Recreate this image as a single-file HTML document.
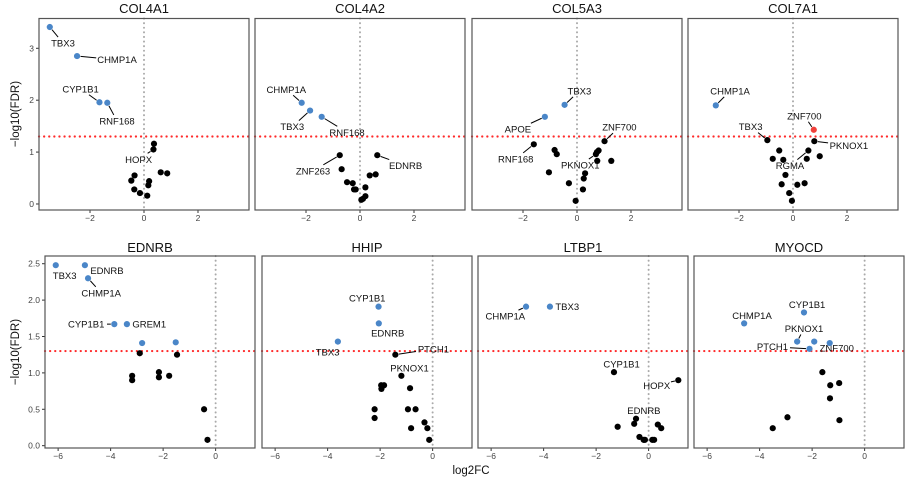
<!DOCTYPE html>
<html><head><meta charset="utf-8">
<style>
html,body{margin:0;padding:0;background:#fff;}
svg{display:block;font-family:"Liberation Sans",sans-serif;}
</style></head>
<body>
<svg id="chart" width="923" height="481" viewBox="0 0 923 481" xmlns="http://www.w3.org/2000/svg">
<text x="0" y="0" transform="translate(19,114) rotate(-90)" text-anchor="middle" font-size="11.5" fill="#111">−log10(FDR)</text>
<text x="0" y="0" transform="translate(19,352) rotate(-90)" text-anchor="middle" font-size="11.5" fill="#111">−log10(FDR)</text>
<text x="471" y="474" text-anchor="middle" font-size="11.5" fill="#111">log2FC</text>
</svg>
<script>
// ---- data: panels, genes, log2FC, -log10FDR, colour group ----
const panelNames = ["COL4A1","COL4A2","COL5A3","COL7A1","EDNRB","HHIP","LTBP1","MYOCD"];
const topTicksY = [0,1,2,3];
const topTicksX = [-2,0,2];
const botTicksY = ["0.0","0.5","1.0","1.5","2.0","2.5"];
const botTicksX = [-6,-4,-2,0];
const fdrThreshold = 1.3;

const xCOL4A1 = [-3.49,-2.48,-1.65,-1.36,0.35,0.37,-0.47,-0.35,-0.36,-0.15,0.12,0.16,0.19,0.62,0.86];
const yCOL4A1 = [3.41,2.85,1.96,1.95,1.05,1.16,0.45,0.55,0.28,0.21,0.16,0.36,0.44,0.61,0.59];
const cCOL4A1 = ["b","b","b","b","k","k","k","k","k","k","k","k","k","k","k"];
const lCOL4A1 = [["TBX3",0,-3.0,3.1],["CHMP1A",1,-1.0,2.78],["CYP1B1",2,-2.35,2.22],["RNF168",3,-1.0,1.6],["HOPX",4,-0.2,0.86]];

const xCOL4A2 = [-2.16,-1.85,-1.42,-0.75,-0.68,0.64,-0.48,-0.27,-0.22,-0.16,0.05,0.11,0.2,0.2,0.36,0.58];
const yCOL4A2 = [1.95,1.80,1.68,0.94,0.67,0.94,0.42,0.40,0.28,0.28,0.08,0.10,0.15,0.32,0.55,0.57];
const cCOL4A2 = ["b","b","b","k","k","k","k","k","k","k","k","k","k","k","k","k"];
const lCOL4A2 = [["CHMP1A",0,-2.73,2.21],["TBX3",1,-2.51,1.49],["RNF168",2,-0.48,1.38],["ZNF263",3,-1.74,0.64],["EDNRB",5,1.69,0.74]];

const xCOL5A3 = [-0.46,-1.19,-1.6,1.02,0.70,0.8,0.74,-0.83,-0.75,0.75,1.27,-1.04,0.30,0.25,-0.30,0.22,-0.05];
const yCOL5A3 = [1.91,1.68,1.15,1.21,0.96,1.03,1.0,1.04,0.96,0.83,0.83,0.61,0.59,0.49,0.40,0.28,0.06];
const cCOL5A3 = ["b","b","k","k","k","k","k","k","k","k","k","k","k","k","k","k","k"];
const lCOL5A3 = [["TBX3",0,0.09,2.18],["APOE",1,-2.19,1.44],["RNF168",2,-2.27,0.87],["ZNF700",3,1.57,1.48],["PKNOX1",4,0.12,0.75]];

const xCOL7A1 = [-2.86,0.77,-0.95,0.79,0.57,-0.51,-0.75,-0.36,0.51,0.99,-0.28,-0.42,0.16,0.43,-0.14,-0.04];
const yCOL7A1 = [1.90,1.43,1.23,1.21,1.03,1.03,0.87,0.85,0.87,0.92,0.56,0.38,0.37,0.40,0.21,0.06];
const cCOL7A1 = ["b","r","k","k","k","k","k","k","k","k","k","k","k","k","k","k"];
const lCOL7A1 = [["CHMP1A",0,-2.33,2.18],["ZNF700",1,0.42,1.70],["TBX3",2,-1.57,1.49],["PKNOX1",3,2.07,1.13],["RGMA",4,-0.11,0.74]];

const xEDNRB = [-6.09,-4.98,-4.86,-3.86,-3.38,-2.80,-1.52,-2.89,-1.47,-3.18,-3.18,-2.16,-2.16,-1.77,-0.44,-0.31];
const yEDNRB = [2.48,2.48,2.30,1.67,1.67,1.41,1.42,1.27,1.25,0.96,0.90,1.01,0.94,0.96,0.50,0.08];
const cEDNRB = ["b","b","b","b","b","b","b","k","k","k","k","k","k","k","k","k"];
const lEDNRB = [["TBX3",0,-5.75,2.34],["EDNRB",1,-4.14,2.41],["CHMP1A",2,-4.36,2.10],["CYP1B1",3,-4.93,1.67],["GREM1",4,-2.53,1.67]];

const xHHIP = [-2.06,-2.05,-3.61,-1.42,-1.19,-1.96,-1.85,-1.95,-0.86,-2.21,-2.21,-0.94,-0.65,-0.31,-0.20,-0.82,-0.13];
const yHHIP = [1.91,1.68,1.43,1.25,0.96,0.83,0.83,0.78,0.79,0.50,0.38,0.50,0.50,0.32,0.24,0.24,0.08];
const cHHIP = ["b","b","b","k","k","k","k","k","k","k","k","k","k","k","k","k","k"];
const lHHIP = [["CYP1B1",0,-2.49,2.03],["EDNRB",1,-1.71,1.55],["TBX3",2,-4.0,1.29],["PTCH1",3,0.03,1.33],["PKNOX1",4,-0.88,1.07]];

const xLTBP1 = [-4.67,-3.76,-1.32,1.13,-0.48,-0.55,-1.18,-0.35,-0.19,-0.14,0.14,0.21,0.35,0.48];
const yLTBP1 = [1.91,1.91,1.01,0.90,0.37,0.30,0.26,0.12,0.08,0.08,0.08,0.08,0.29,0.24];
const cLTBP1 = ["b","b","k","k","k","k","k","k","k","k","k","k","k","k"];
const lLTBP1 = [["CHMP1A",0,-5.46,1.78],["TBX3",1,-3.1,1.91],["CYP1B1",2,-1.03,1.12],["HOPX",3,0.31,0.83],["EDNRB",4,-0.18,0.48]];

const xMYOCD = [-2.31,-4.59,-2.57,-1.92,-1.33,-2.10,-1.61,-0.97,-1.31,-1.32,-0.96,-2.94,-3.5];
const yMYOCD = [1.83,1.68,1.43,1.43,1.41,1.33,1.01,0.86,0.83,0.65,0.35,0.39,0.24];
const cMYOCD = ["b","b","b","b","b","b","k","k","k","k","k","k","k"];
const lMYOCD = [["CYP1B1",0,-2.19,1.94],["CHMP1A",1,-4.29,1.79],["PKNOX1",2,-2.31,1.61],["ZNF700",4,-1.06,1.34],["PTCH1",5,-3.51,1.36]];

const seriesX = [xCOL4A1,xCOL4A2,xCOL5A3,xCOL7A1,xEDNRB,xHHIP,xLTBP1,xMYOCD];
const seriesY = [yCOL4A1,yCOL4A2,yCOL5A3,yCOL7A1,yEDNRB,yHHIP,yLTBP1,yMYOCD];
const seriesC = [cCOL4A1,cCOL4A2,cCOL5A3,cCOL7A1,cEDNRB,cHHIP,cLTBP1,cMYOCD];
const seriesL = [lCOL4A1,lCOL4A2,lCOL5A3,lCOL7A1,lEDNRB,lHHIP,lLTBP1,lMYOCD];

// ---- layout ----
const NS = "http://www.w3.org/2000/svg";
const svg = document.getElementById("chart");
const topLeft = [39,255,472,688], botLeft = [45,262,478,694];
const colors = {b:"#4a86c8", k:"#000", r:"#f0403a"};
function mk(tag, attrs, parent){ const e=document.createElementNS(NS,tag); for(const k in attrs) e.setAttribute(k,attrs[k]); (parent||svg).appendChild(e); return e; }

for (let p=0;p<8;p++){
  const top = p<4;
  const L = top? topLeft[p] : botLeft[p-4];
  const W = 210;
  const T = top? 18.5 : 256, B = top? 210 : 448;
  const xmin = top? -3.89 : -6.5, xmax = top? 3.89 : 1.5;
  const ymin = top? -0.116 : -0.032, ymax = top? 3.574 : 2.606;
  const sx = v => L + (v - xmin)/(xmax - xmin)*W;
  const sy = v => B - (v - ymin)/(ymax - ymin)*(B - T);
  const g = mk("g",{});
  
  
  const title = mk("text",{x:L+W/2,y:top?13:252,"text-anchor":"middle","font-size":"13","fill":"#111"},g);
  title.textContent = panelNames[p];
  
  
  // vertical zero line
  const vl = mk("line",{x1:sx(0),x2:sx(0),y1:T,y2:B,stroke:"#aaa","stroke-width":"2","stroke-dasharray":"0.1 4.5","stroke-linecap":"round"},g);
  
  
  // threshold line
  const hl = mk("line",{x1:L,x2:L+W,y1:sy(fdrThreshold),y2:sy(fdrThreshold),stroke:"#ff2a2a","stroke-width":"2.2","stroke-dasharray":"0.1 5","stroke-linecap":"round"},g);
  
  
  // x ticks
  const xt = top? topTicksX : botTicksX;
  xt.forEach(v=>{
    mk("line",{x1:sx(v),x2:sx(v),y1:B,y2:B+3,stroke:"#333","stroke-width":"1"},g);
    const t = mk("text",{x:sx(v),y:B+11,"text-anchor":"middle","font-size":"8.5","fill":"#444"},g);
    t.textContent = v<0 ? "−"+Math.abs(v) : String(v);
    
    
  });
  if (p===0 || p===4){
    const yt = top? topTicksY : botTicksY;
    yt.forEach(v=>{
      const n = parseFloat(v);
      mk("line",{x1:L-3,x2:L,y1:sy(n),y2:sy(n),stroke:"#333","stroke-width":"1"},g);
      const t = mk("text",{x:L-5,y:sy(n)+3,"text-anchor":"end","font-size":"8.5","fill":"#444"},g);
      t.textContent = String(v);
      
      
    });
  }
  // labels + segments
  seriesL[p].forEach(lb=>{
    const px = sx(seriesX[p][lb[1]]), py = sy(seriesY[p][lb[1]]);
    const lx = sx(lb[2]), ly = sy(lb[3]);
    const hw = lb[0].length*3.3+1, hh = 6;
    const dx = px-lx, dy = py-ly;
    let s = Math.min(dx!==0? hw/Math.abs(dx):1e9, dy!==0? hh/Math.abs(dy):1e9);
    if (s < 1){
      const ex = lx + dx*s, ey = ly + dy*s;
      const len = Math.hypot(px-ex,py-ey);
      if (len > 6){
        const k = (len-3.5)/len;
        const seg = mk("line",{x1:ex,y1:ey,x2:ex+(px-ex)*k,y2:ey+(py-ey)*k,stroke:"#000","stroke-width":"1"},g);
        
        
      }
    }
    const t = mk("text",{x:lx,y:ly+3.5,"text-anchor":"middle","font-size":"9.5","fill":"#111"},g);
    t.textContent = lb[0];
    
    
  });
  // points
  seriesX[p].forEach((xv,i)=>{
    const c = mk("circle",{cx:sx(xv),cy:sy(seriesY[p][i]),r:3.1,fill:colors[seriesC[p][i]]},g);
    
    
  });
  // frame
  const fr = mk("rect",{x:L,y:T,width:W,height:B-T,fill:"none",stroke:"#555","stroke-width":"1.2"},g);
  
  
}
</script>
</body></html>
